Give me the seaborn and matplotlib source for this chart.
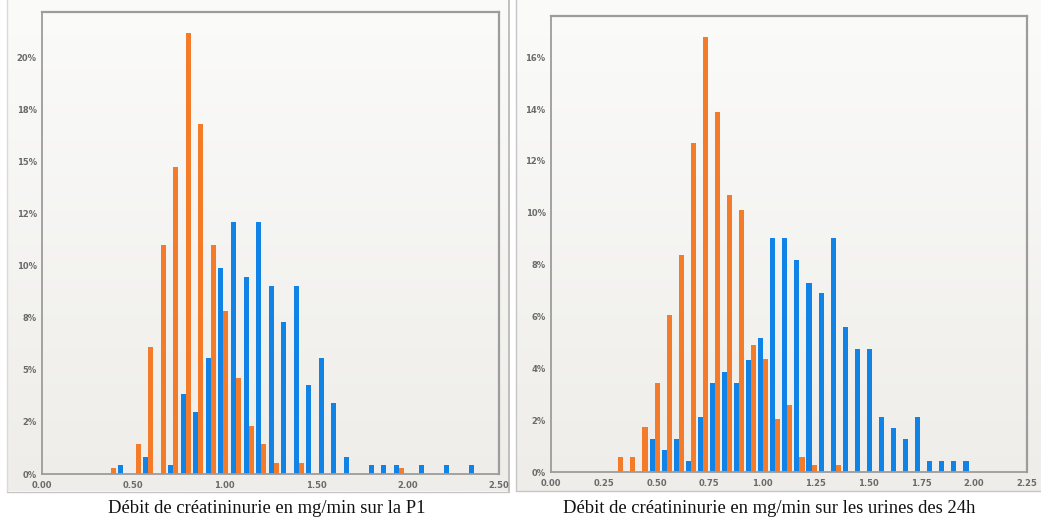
import numpy as np
import pandas as pd
import matplotlib
matplotlib.use("Agg")
import matplotlib.pyplot as plt
import seaborn as sns
from matplotlib.colors import LinearSegmentedColormap
from matplotlib.lines import Line2D

# ---------------------------------------------------------------------------
# Distribution du débit de créatininurie (mg/min), en % des sujets par classe
# ---------------------------------------------------------------------------
groupes = ["groupe 1", "groupe 2"]
couleurs = {"groupe 1": "#1283e6", "groupe 2": "#f47b2a"}

# Prélèvement P1 : centre de chaque classe et pourcentage par groupe
p1_centres = [0.3754, 0.4440, 0.5126, 0.5811, 0.6497, 0.7183, 0.7869, 0.8554,
              0.9240, 0.9926, 1.0611, 1.1297, 1.1983, 1.2669, 1.3354, 1.4040,
              1.4726, 1.5411, 1.6097, 1.6783, 1.7468, 1.8154, 1.8840, 1.9526,
              2.0211, 2.0897, 2.1583, 2.2268, 2.2954, 2.3640]
p1_groupe1 = [0.00, 0.42, 0.00, 0.83, 0.00, 0.42, 3.84, 2.96,
              5.58, 9.90, 12.10, 9.47, 12.10, 9.02, 7.31, 9.02,
              4.27, 5.58, 3.39, 0.83, 0.00, 0.42, 0.42, 0.42,
              0.00, 0.42, 0.00, 0.42, 0.00, 0.42]
p1_groupe2 = [0.29, 0.00, 1.42, 6.08, 10.99, 14.75, 21.15, 16.80,
              10.99, 7.82, 4.59, 2.30, 1.42, 0.54, 0.00, 0.54,
              0.00, 0.00, 0.00, 0.00, 0.00, 0.00, 0.00, 0.29,
              0.00, 0.00, 0.00, 0.00, 0.00, 0.00]

# Urines des 24 h
u24_centres = [0.3198, 0.3768, 0.4339, 0.4910, 0.5481, 0.6052, 0.6622, 0.7193,
               0.7764, 0.8335, 0.8906, 0.9476, 1.0047, 1.0618, 1.1188, 1.1759,
               1.2330, 1.2901, 1.3472, 1.4042, 1.4613, 1.5184, 1.5755, 1.6325,
               1.6896, 1.7467, 1.8038, 1.8608, 1.9179, 1.9750]
u24_groupe1 = [0.00, 0.00, 0.00, 1.27, 0.86, 1.27, 0.44, 2.15,
               3.46, 3.88, 3.46, 4.31, 5.17, 9.05, 9.05, 8.19,
               7.31, 6.90, 9.05, 5.59, 4.74, 4.74, 2.15, 1.72,
               1.27, 2.15, 0.44, 0.44, 0.44, 0.44]
u24_groupe2 = [0.58, 0.58, 1.74, 3.46, 6.07, 8.38, 12.69, 16.76,
               13.87, 10.69, 10.12, 4.91, 4.36, 2.04, 2.60, 0.58,
               0.28, 0.00, 0.28, 0.00, 0.00, 0.00, 0.00, 0.00,
               0.00, 0.00, 0.00, 0.00, 0.00, 0.00]

# Graduations
p1_yticks = [0, 2.5, 5, 7.5, 10, 12.5, 15, 17.5, 20]
p1_ylabels = ["0%", "2%", "5%", "8%", "10%", "12%", "15%", "18%", "20%"]
p1_xticks = [0.0, 0.5, 1.0, 1.5, 2.0, 2.5]
p1_xlabels = ["0.00", "0.50", "1.00", "1.50", "2.00", "2.50"]

u24_yticks = [0, 2, 4, 6, 8, 10, 12, 14, 16]
u24_ylabels = ["0%", "2%", "4%", "6%", "8%", "10%", "12%", "14%", "16%"]
u24_xticks = [0.0, 0.25, 0.5, 0.75, 1.0, 1.25, 1.5, 1.75, 2.0, 2.25]
u24_xlabels = ["0.00", "0.25", "0.50", "0.75", "1.00", "1.25", "1.50",
               "1.75", "2.00", "2.25"]

titre_p1 = "Débit de créatininurie en mg/min sur la P1"
titre_u24 = "Débit de créatininurie en mg/min sur les urines des 24h"

# ---------------------------------------------------------------------------
sns.set_theme(style="white")
plt.rcParams["font.family"] = ["DejaVu Sans"]

W, H = 1041, 524
fig = plt.figure(figsize=(W / 100, H / 100), dpi=100)
fig.patch.set_facecolor("white")


def px_rect(x0, y0, x1, y1):
    """Pixel box (top-left origin) -> figure fraction [l, b, w, h]."""
    return [x0 / W, 1 - y1 / H, (x1 - x0) / W, (y1 - y0) / H]


def fig_line(x0, y0, x1, y1, color, lw=1.0):
    fig.add_artist(Line2D([x0 / W, x1 / W], [1 - y0 / H, 1 - y1 / H],
                          transform=fig.transFigure, color=color, lw=lw))


degrade = LinearSegmentedColormap.from_list("fond", ["#fbfbfa", "#eeede9"])


def fond_panneau(box):
    bg = fig.add_axes(px_rect(*box), zorder=0)
    bg.imshow(np.linspace(0, 1, 256).reshape(-1, 1), cmap=degrade,
              aspect="auto", extent=[0, 1, 0, 1], interpolation="bilinear")
    bg.set_axis_off()


# two framed panels
fond_panneau((7, 0, 508.5, 491.5))
fond_panneau((516, 0, 1041, 491))
fig_line(7, 0, 7, 491.5, "#dadada")
fig_line(508.5, 0, 508.5, 491.5, "#b4b4b4", 1.2)
fig_line(7, 491.5, 508.5, 491.5, "#c6c6c6")
fig_line(516, 0, 516, 491, "#c6c6c6")
fig_line(516, 491, 1041, 491, "#c6c6c6")


def histogramme(box, centres, g1, g2, largeur, xlim, ylim,
                xticks, xlabels, yticks, ylabels):
    ax = fig.add_axes(px_rect(*box), zorder=2)
    ax.set_facecolor("none")
    n = len(centres)
    df = pd.DataFrame({
        "centre": list(centres) * 2,
        "pct": list(g1) + list(g2),
        "groupe": [groupes[0]] * n + [groupes[1]] * n,
    })
    sns.barplot(data=df, x="centre", y="pct", hue="groupe",
                hue_order=groupes, palette=couleurs, native_scale=True,
                dodge=True, width=largeur, gap=0, errorbar=None,
                legend=False, linewidth=0, saturation=1, ax=ax)
    ax.set_xlim(*xlim)
    ax.set_ylim(*ylim)
    ax.set_xticks(xticks, xlabels)
    ax.set_yticks(yticks, ylabels)
    ax.set(xlabel="", ylabel="")
    ax.tick_params(axis="both", which="both", labelsize=6,
                   labelcolor="#6a6a6a", color="#8a8a8a",
                   length=2.2, width=0.8, pad=1.5)
    ax.tick_params(axis="x", pad=2.5)
    for lab in ax.get_xticklabels() + ax.get_yticklabels():
        lab.set_fontweight("bold")
    for cote, sp in ax.spines.items():
        sp.set_visible(True)
        sp.set_color("#9c9c9c")
        sp.set_linewidth(1.6 if cote in ("top", "right") else 1.3)
    ax.grid(False)
    return ax


histogramme((42, 12, 499, 474), p1_centres, p1_groupe1, p1_groupe2, 0.80,
            (0, 2.5), (0, 22.18), p1_xticks, p1_xlabels, p1_yticks, p1_ylabels)
histogramme((550.7, 15.7, 1026.7, 472.3), u24_centres, u24_groupe1,
            u24_groupe2, 0.84, (0, 2.25), (0, 17.6),
            u24_xticks, u24_xlabels, u24_yticks, u24_ylabels)

police_legende = dict(family=["Liberation Serif", "DejaVu Serif"], size=13.4,
                      color="#111111", ha="center", va="center")
fig.text(266.5 / W, 1 - 508.5 / H, titre_p1, **police_legende)
fig.text(769 / W, 1 - 508.5 / H, titre_u24, **police_legende)

fig.savefig("out.png", dpi=100, facecolor="white")
